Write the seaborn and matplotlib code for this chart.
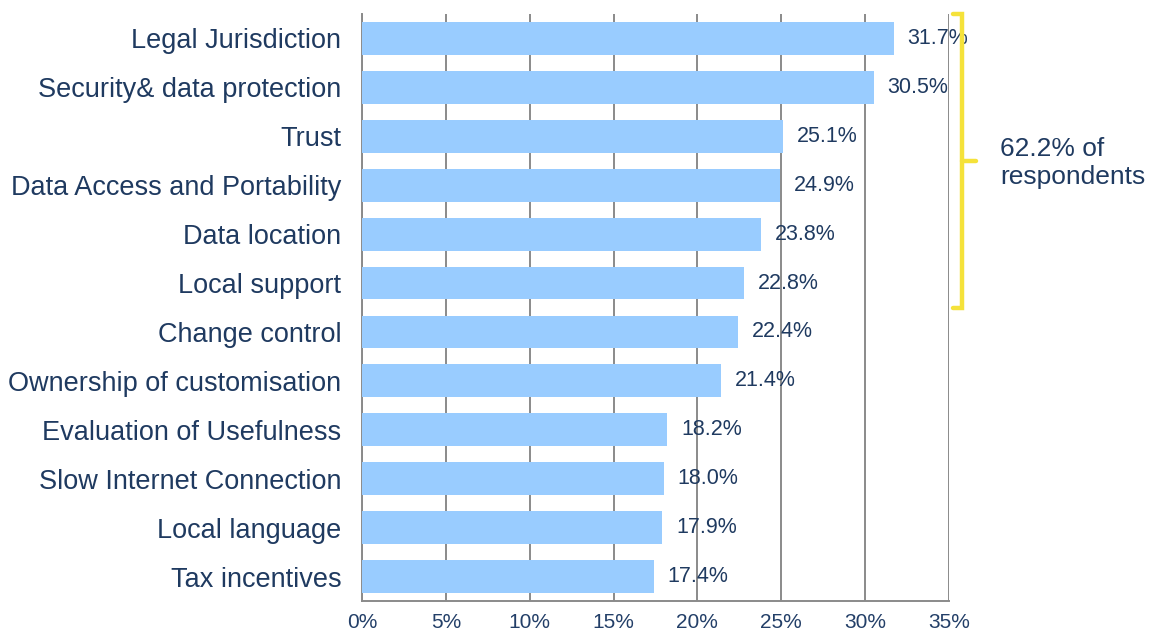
import matplotlib
matplotlib.use("Agg")
import matplotlib.pyplot as plt
import matplotlib.transforms as mtransforms
import seaborn as sns
import pandas as pd

categories = ["Legal Jurisdiction", "Security& data protection", "Trust",
              "Data Access and Portability", "Data location", "Local support",
              "Change control", "Ownership of customisation",
              "Evaluation of Usefulness", "Slow Internet Connection",
              "Local language", "Tax incentives"]
values = [31.7, 30.5, 25.1, 24.9, 23.8, 22.8, 22.4, 21.4, 18.2, 18.0, 17.9, 17.4]
xticks = [0, 5, 10, 15, 20, 25, 30, 35]
xtick_labels = ["0%", "5%", "10%", "15%", "20%", "25%", "30%", "35%"]
bracket_text = "62.2% of\nrespondents"

sns.set_theme(style="white")
plt.rcParams['font.family'] = ['Liberation Sans', 'DejaVu Sans']

df = pd.DataFrame({"cat": categories, "val": values})

fig = plt.figure(figsize=(11.72, 6.39), dpi=100)
ax = fig.add_axes([362/1172, 1-601/639, (949-362)/1172, (601-14)/639])

sns.barplot(data=df, x="val", y="cat", orient="h", color="#99CCFF",
            saturation=1, width=0.67, ax=ax, zorder=3, linewidth=0)

navy = "#1f3a60"
gray = "#8a8a8a"

ax.set_xlim(0, 35)
ax.set_ylim(len(categories) - 0.5, -0.5)
ax.set_xticks(xticks)
ax.set_xticklabels(xtick_labels, fontsize=15, color="#233f68")
ax.set_xlabel("")
ax.set_ylabel("")
ax.set_yticks(range(len(categories)))
ax.set_yticklabels(categories, fontsize=19.5, color=navy)
ax.tick_params(axis="y", length=0, pad=15)
ax.set_yticks([i + 0.5 for i in range(-1, len(categories))], minor=True)
ax.tick_params(axis="y", which="minor", length=5, width=1.3, color=gray, direction="out")
ax.tick_params(axis="x", length=5, width=1.3, color=gray, direction="out", pad=4)

ax.grid(axis="x", color=gray, linewidth=1.4, zorder=1)
ax.set_axisbelow(True)
for s in ["top", "right"]:
    ax.spines[s].set_visible(False)
for s in ["left", "bottom"]:
    ax.spines[s].set_color(gray)
    ax.spines[s].set_linewidth(1.4)

for c in ax.containers:
    ax.bar_label(c, fmt="%.1f%%", padding=10, fontsize=15.5, color=navy, zorder=5)

# bracket spanning first six rows
trans = mtransforms.blended_transform_factory(ax.transAxes, ax.transData)
bx = (962 - 362) / 587
hx = (953 - 362) / 587
mx = (976 - 362) / 587
ycol = "#F5E23A"
ax.plot([hx, bx, bx, hx], [-0.5, -0.5, 5.5, 5.5], color=ycol, lw=3.2,
        transform=trans, clip_on=False, solid_joinstyle="miter", zorder=6)
ax.plot([bx, mx], [2.5, 2.5], color=ycol, lw=3.2, transform=trans, clip_on=False, zorder=6)
ax.text((1000 - 362) / 587, 2.55, bracket_text, transform=trans, fontsize=19,
        color=navy, va="center", ha="left", linespacing=1.2)

fig.savefig("out.png", dpi=100)
